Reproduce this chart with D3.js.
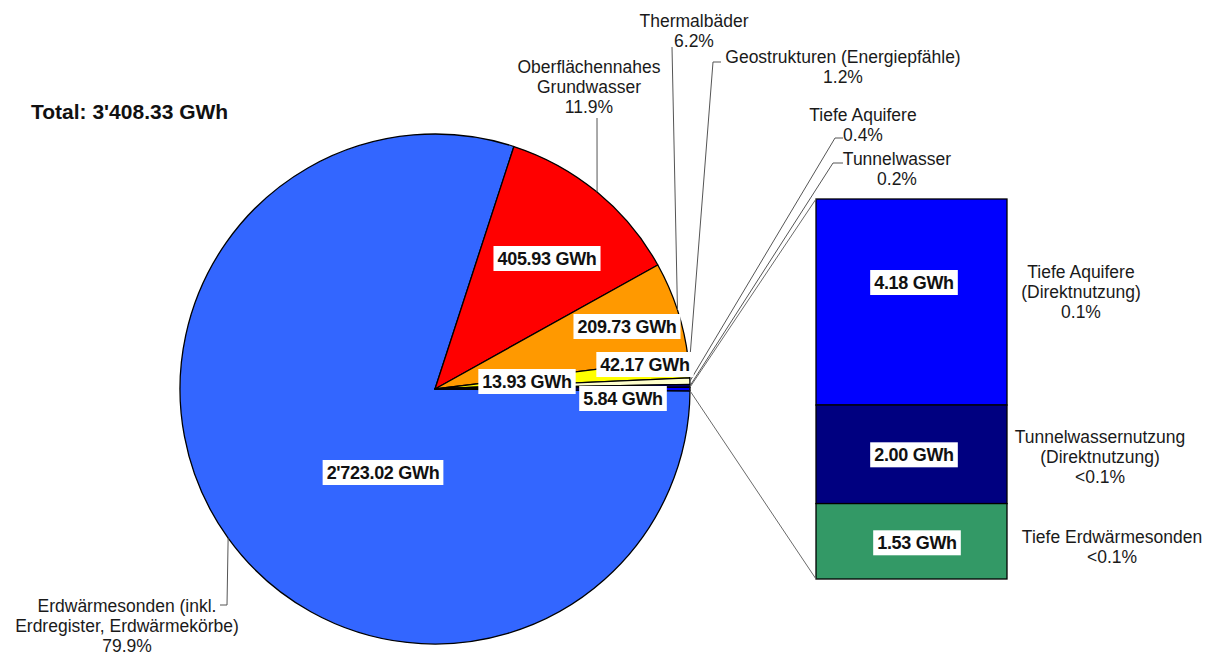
<!DOCTYPE html>
<html>
<head>
<meta charset="utf-8">
<script src="https://cdn.jsdelivr.net/npm/d3@7"></script>
<style>
  body { margin: 0; background: #fff; }
  svg { font-family: "Liberation Sans", Arial, sans-serif; }
</style>
</head>
<body>
<div class="chart"></div>
<script>
// pie slices (GWh)
var categories = ['Erdwärmesonden (inkl. Erdregister, Erdwärmekörbe)', 'Oberflächennahes Grundwasser',
    'Thermalbäder', 'Geostrukturen (Energiepfähle)', 'Tiefe Aquifere', 'Tunnelwasser'];
var values = [2723.02, 405.93, 209.73, 42.17, 13.93, 5.84];
var colors = ['#3366ff', '#ff0000', '#ff9900', '#ffff00', '#ffffcc', '#000080', '#0000ff'];

// bar (Direktnutzung etc.), top to bottom
var barCategories = ['Tiefe Aquifere (Direktnutzung)', 'Tunnelwassernutzung (Direktnutzung)', 'Tiefe Erdwärmesonden'];
var barValues = [4.18, 2.00, 1.53];
var barColors = ['#0000ff', '#000080', '#339966'];

// label line breaks
var pieLabelLines = [['Erdwärmesonden (inkl.', 'Erdregister, Erdwärmekörbe)'], ['Oberflächennahes', 'Grundwasser'],
    ['Thermalbäder'], ['Geostrukturen (Energiepfähle)'], ['Tiefe Aquifere'], ['Tunnelwasser']];
var barLabelLines = [['Tiefe Aquifere', '(Direktnutzung)'], ['Tunnelwassernutzung', '(Direktnutzung)'], ['Tiefe Erdwärmesonden']];

var w = 1213, h = 656;
var svg = d3.select('div.chart').append('svg').attr('width', w).attr('height', h);

var cx = 435, cy = 389, R = 255;
var otherSum = d3.sum(barValues);
var total = d3.sum(values) + otherSum;
var pieData = values.concat([otherSum]);

var fmt = d3.formatLocale({decimal: '.', thousands: "'", grouping: [3], currency: ['', '']}).format(',.2f');
function pct(v) {
    var p = v / total * 100;
    return p < 0.1 ? '<0.1%' : p.toFixed(1) + '%';
}

// other slice centred on 3 o'clock
var start = Math.PI / 2 + (otherSum / total) * Math.PI;
var arcs = d3.pie().sort(null).startAngle(start).endAngle(start + 2 * Math.PI)(pieData);
var arc = d3.arc().innerRadius(0).outerRadius(R);

function edge(a, r) { return [cx + r * Math.sin(a), cy - r * Math.cos(a)]; }

var pie = svg.append('g').attr('transform', 'translate(' + [cx, cy] + ')');
pie.selectAll('path').data(arcs).enter().append('path')
    .attr('d', arc)
    .attr('fill', function(d, i){ return colors[i]; })
    .attr('stroke', '#000').attr('stroke-width', 1.3).attr('stroke-linejoin', 'round');

// bar
var barX = 816, barW = 191;
var barY = d3.scaleLinear().domain([0, otherSum]).range([579, 199]);
var stack = [], acc = 0;
for (var i = barValues.length - 1; i >= 0; i--) {
    stack[i] = {y0: acc, y1: acc + barValues[i], i: i};
    acc += barValues[i];
}
svg.selectAll('.bar').data(stack).enter().append('rect')
    .attr('class', 'bar')
    .attr('x', barX).attr('width', barW)
    .attr('y', function(d){ return barY(d.y1); })
    .attr('height', function(d){ return barY(d.y0) - barY(d.y1); })
    .attr('fill', function(d){ return barColors[d.i]; })
    .attr('stroke', '#000').attr('stroke-width', 1.3);

// series lines pie -> bar
var oth = arcs[arcs.length - 1];
var lines = svg.append('g').attr('stroke', '#6a6a6a').attr('stroke-width', 1).attr('fill', 'none');
lines.append('line').attr('x1', edge(oth.startAngle, R)[0]).attr('y1', edge(oth.startAngle, R)[1])
    .attr('x2', barX).attr('y2', barY(otherSum));
lines.append('line').attr('x1', edge(oth.endAngle, R)[0]).attr('y1', edge(oth.endAngle, R)[1])
    .attr('x2', barX).attr('y2', barY(0));

// category labels: anchor of text block + leader elbow
var catPos = [
    {x: 127, y: 612, elbow: [227, 605], tick: [220, 605]},
    {x: 589, y: 73, elbow: [597, 118], tick: [597, 118]},
    {x: 694, y: 27, elbow: [672, 47], tick: [672, 47]},
    {x: 843, y: 63, elbow: [713, 62], tick: [721, 62]},
    {x: 863, y: 121, elbow: [835, 138], tick: [843, 138]},
    {x: 897, y: 165, elbow: [833, 163], tick: [843, 163]}
];

var lab = svg.append('g').attr('font-size', 17.5).attr('fill', '#1a1a1a').attr('text-anchor', 'middle');
categories.forEach(function(c, i){
    var p = catPos[i];
    var lns = pieLabelLines[i].concat([pct(values[i])]);
    var t = lab.append('text').attr('x', p.x).attr('y', p.y);
    lns.forEach(function(l, k){
        t.append('tspan').attr('x', p.x).attr('dy', k ? 20 : 0).text(l);
    });
    var a = (arcs[i].startAngle + arcs[i].endAngle) / 2;
    var e = edge(a, R);
    lines.append('polyline')
        .attr('stroke', '#555')
        .attr('points', [p.tick, p.elbow, e].map(function(q){ return q.join(','); }).join(' '));
});

var barCatPos = [{x: 1081, y: 278}, {x: 1100, y: 443}, {x: 1112, y: 543}];
barCategories.forEach(function(c, i){
    var p = barCatPos[i];
    var lns = barLabelLines[i].concat([pct(barValues[i])]);
    var t = lab.append('text').attr('x', p.x).attr('y', p.y);
    lns.forEach(function(l, k){
        t.append('tspan').attr('x', p.x).attr('dy', k ? 20 : 0).text(l);
    });
});

// value labels with white boxes
var valPos = [[383, 472], [547, 258], [627, 326], [645, 364], [527, 381], [623, 398]];
var barValPos = [914, 914, 917];
function valueLabel(x, y, txt) {
    var g = svg.append('g');
    var t = g.append('text').attr('x', x).attr('y', y + 6.5)
        .attr('text-anchor', 'middle').attr('font-weight', 'bold').attr('font-size', 18)
        .attr('fill', '#111').attr('letter-spacing', -0.3).text(txt);
    var b = t.node().getBBox();
    g.insert('rect', 'text').attr('x', b.x - 4).attr('y', y - 12).attr('width', b.width + 8).attr('height', 25)
        .attr('fill', '#fff');
}
values.forEach(function(v, i){ valueLabel(valPos[i][0], valPos[i][1], fmt(v) + ' GWh'); });
stack.forEach(function(d){
    valueLabel(barValPos[d.i], (barY(d.y0) + barY(d.y1)) / 2 + (d.i === 0 ? -20 : 0) + (d.i === 2 ? 1 : 0), fmt(barValues[d.i]) + ' GWh');
});

// total
svg.append('text').attr('x', 31).attr('y', 119).attr('font-weight', 'bold').attr('font-size', 21)
    .attr('fill', '#111').text('Total: ' + fmt(total) + ' GWh');
</script>
</body>
</html>
